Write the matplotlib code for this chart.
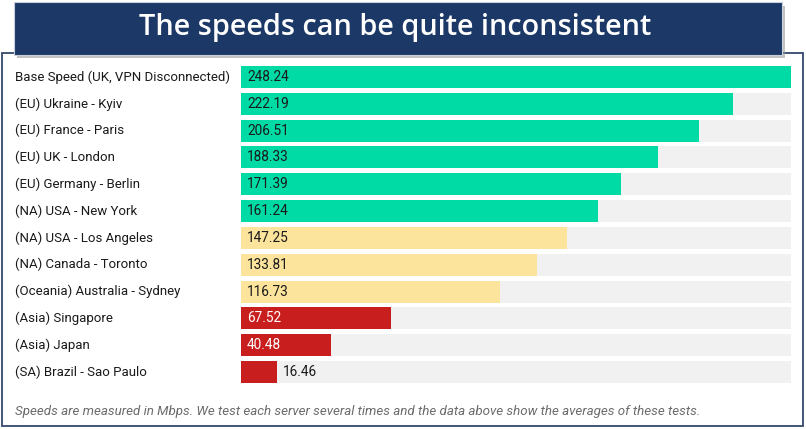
import matplotlib
matplotlib.use("Agg")
import matplotlib.pyplot as plt
from matplotlib.patches import Rectangle

categories = [
    "Base Speed (UK, VPN Disconnected)",
    "(EU) Ukraine - Kyiv",
    "(EU) France - Paris",
    "(EU) UK - London",
    "(EU) Germany - Berlin",
    "(NA) USA - New York",
    "(NA) USA - Los Angeles",
    "(NA) Canada - Toronto",
    "(Oceania) Australia - Sydney",
    "(Asia) Singapore",
    "(Asia) Japan",
    "(SA) Brazil - Sao Paulo",
]
speeds = [248.24, 222.19, 206.51, 188.33, 171.39, 161.24, 147.25, 133.81, 116.73, 67.52, 40.48, 16.46]
tiers = ["fast"] * 6 + ["mid"] * 3 + ["slow"] * 3
title = "The speeds can be quite inconsistent"
footnote = "Speeds are measured in Mbps. We test each server several times and the data above show the averages of these tests."

tier_colors = {"fast": "#00dba6", "mid": "#fde49c", "slow": "#c81e1e"}
text_colors = {"fast": "#1a1a1a", "mid": "#1a1a1a", "slow": "#ffffff"}

plt.rcParams["font.family"] = ["Roboto", "DejaVu Sans"]

W, H = 806, 429
fig = plt.figure(figsize=(W / 100, H / 100), dpi=100)
fig.patch.set_facecolor("white")

# background frame axes in pixel coords
bg = fig.add_axes([0, 0, 1, 1])
bg.set_xlim(0, W)
bg.set_ylim(H, 0)
bg.axis("off")
bg.add_patch(Rectangle((2, 53), 801, 373, facecolor="white", edgecolor="#34496b", lw=1.3, zorder=1))
# title box shadow + box
bg.add_patch(Rectangle((17, 6), 768, 52, facecolor="#9a9a9a", edgecolor="none", alpha=0.6, zorder=2))
bg.add_patch(Rectangle((14, 2), 768, 53, facecolor="#1b3866", edgecolor="#c9d0db", lw=0.8, zorder=3))
bg.text(395, 27, title, color="white", fontsize=20.8, fontweight="semibold", family=["Open Sans", "DejaVu Sans"],
        ha="center", va="center", zorder=4)
bg.text(15, 411, footnote, color="#6b6b6b", fontsize=9.6, style="italic", ha="left", va="center", zorder=4)

# bars axes
left, right = 241, 791
top, bottom = 63.6, 385.4
ax = fig.add_axes([left / W, 1 - bottom / H, (right - left) / W, (bottom - top) / H])
ax.set_xlim(0, max(speeds))
n = len(categories)
ax.set_ylim(n - 0.5, -0.5)
ax.axis("off")
ys = list(range(n))
ax.barh(ys, [max(speeds)] * n, height=0.82, color="#f1f1f1", zorder=1)
ax.barh(ys, speeds, height=0.82, color=[tier_colors[t] for t in tiers], zorder=2)

for y, cat, v, t in zip(ys, categories, speeds, tiers):
    ax.annotate(cat, xy=(0, y), xytext=(15 - left, 0), textcoords="offset pixels", ha="left", va="center",
                fontsize=9.5, color="#1a1a1a", annotation_clip=False)
    if v > 25:
        ax.annotate(f"{v:.2f}", xy=(0, y), xytext=(6, 0), textcoords="offset pixels", ha="left",
                    va="center", fontsize=9.8, color=text_colors[t], zorder=3)
    else:
        ax.annotate(f"{v:.2f}", xy=(v, y), xytext=(5, 0), textcoords="offset pixels", ha="left",
                    va="center", fontsize=9.8, color="#1a1a1a", zorder=3)

fig.savefig("out.png", dpi=100)
